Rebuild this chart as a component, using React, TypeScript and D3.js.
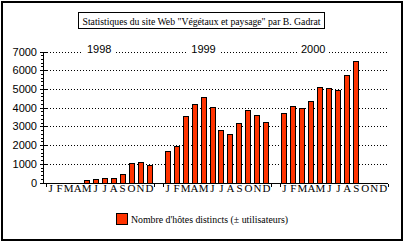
import React from "react";
import * as d3 from "d3";

const monthLabels = ["J", "F", "M", "A", "M", "J", "J", "A", "S", "O", "N", "D"];
const years = ["1998", "1999", "2000"];
const hosts1998 = [0, 0, 0, 0, 110, 170, 220, 220, 440, 1020, 1120, 910];
const hosts1999 = [1700, 1970, 3550, 4210, 4580, 4040, 2790, 2590, 3160, 3870, 3600, 3220];
const hosts2000 = [3710, 4090, 3980, 4360, 5120, 5050, 4960, 5750, 6480, null, null, null];
const yTicks = [0, 1000, 2000, 3000, 4000, 5000, 6000, 7000];
const titleText = "Statistiques du site Web \"Végétaux et paysage\" par B. Gadrat";
const legendText = "Nombre d'hôtes distincts (± utilisateurs)";

// layout: where each year label sits (fractional month index in its year)
const yearLabelMonthPos = [5.4, 4, 3.2];

const W = 406;
const H = 243;
const barColor = "#ff3300";

export default function App() {
  const seriesByYear = [hosts1998, hosts1999, hosts2000];
  const slots: string[] = [];
  years.forEach((yr, yi) => {
    monthLabels.forEach((_, mi) => slots.push(`${yr}-${mi}`));
    if (yi < years.length - 1) slots.push(`gap-${yi}`);
  });
  const x = d3.scaleBand<string>().domain(slots).range([46.2, 387.8]).padding(0);
  const y = d3.scaleLinear().domain([0, 7000]).range([182.5, 51.5]);
  const bw = x.bandwidth();
  const cx = (key: string) => (x(key) as number) + bw / 2;

  const bars: { key: string; v: number }[] = [];
  years.forEach((yr, yi) => {
    seriesByYear[yi].forEach((v, mi) => {
      if (v != null && v > 0) bars.push({ key: `${yr}-${mi}`, v });
    });
  });

  const minorTicks = d3.range(0, 7001, 200).filter((t) => t % 1000 !== 0);
  const axisX = 43.5;
  const y0 = Math.round(y(0)) + 0.5;

  const yearLabelX = years.map((yr, yi) => cx(`${yr}-0`) + yearLabelMonthPos[yi] * bw);

  // x ticks: start, around each gap slot, end
  const xTickPos: number[] = [x(slots[0]) as number];
  slots.forEach((s) => {
    if (s.startsWith("gap")) {
      xTickPos.push(x(s) as number, (x(s) as number) + bw);
    }
  });
  xTickPos.push(387.5);

  const serif = "'Liberation Serif', 'Times New Roman', serif";
  const sans = "'Liberation Sans', Arial, sans-serif";

  return (
    <svg width={W} height={H} style={{ position: "absolute", left: 0, top: 0 }} shapeRendering="crispEdges">
      <rect x={0} y={0} width={W} height={H} fill="#fff" />
      <rect x={2} y={2} width={400} height={237.5} fill="none" stroke="#000" strokeWidth={2} />

      {/* title */}
      <rect x={78.5} y={12.5} width={246} height={16} fill="#fff" stroke="#000" strokeWidth={1} />
      <text x={201.5} y={24.5} textAnchor="middle" fontFamily={serif} fontSize={11}
        textLength={238} lengthAdjust="spacingAndGlyphs" shapeRendering="auto">
        {titleText}
      </text>

      {/* gridlines */}
      {yTicks.filter((t) => t > 0).map((t) => (
        <line key={t} x1={axisX + 3} x2={387} y1={Math.round(y(t)) + 0.5} y2={Math.round(y(t)) + 0.5}
          stroke="#000" strokeWidth={1} strokeDasharray="1,2" />
      ))}

      {/* year labels with white backing */}
      {years.map((yr, yi) => (
        <g key={yr}>
          <rect x={yearLabelX[yi] - 16} y={y(7000) - 5} width={32} height={10} fill="#fff" />
          <text x={yearLabelX[yi]} y={y(7000) + 1} textAnchor="middle" fontFamily={sans} fontSize={11}
            shapeRendering="auto">{yr}</text>
        </g>
      ))}

      {/* y axis */}
      <line x1={axisX} x2={axisX} y1={y(7000)} y2={y0 + 0.5} stroke="#000" />
      {yTicks.map((t) => (
        <g key={t}>
          <line x1={40} x2={47} y1={Math.round(y(t)) + 0.5} y2={Math.round(y(t)) + 0.5} stroke="#000" />
          <text x={37} y={y(t) + 4} textAnchor="end" fontFamily={sans} fontSize={11} shapeRendering="auto">{t}</text>
        </g>
      ))}
      {minorTicks.map((t) => (
        <line key={t} x1={41} x2={axisX} y1={Math.round(y(t)) + 0.5} y2={Math.round(y(t)) + 0.5} stroke="#000" />
      ))}

      {/* bars */}
      {bars.map((b) => {
        const left = Math.round(cx(b.key) - 3) + 0.5;
        const top = Math.round(y(b.v)) + 0.5;
        return (
          <rect key={b.key} x={left} y={top} width={5} height={y0 - top} fill={barColor} stroke="#000" strokeWidth={1} />
        );
      })}

      {/* x axis */}
      <line x1={axisX} x2={387.5} y1={y0} y2={y0} stroke="#000" />
      {xTickPos.map((p, i) => (
        <line key={i} x1={Math.round(p) + 0.5} x2={Math.round(p) + 0.5} y1={y0} y2={y0 + 3} stroke="#000" />
      ))}
      {slots.filter((s) => !s.startsWith("gap")).map((s) => {
        const mi = +s.split("-")[1];
        return (
          <text key={s} x={cx(s)} y={192} textAnchor="middle" fontFamily={serif} fontSize={11}
            shapeRendering="auto">{monthLabels[mi]}</text>
        );
      })}

      {/* legend */}
      <rect x={116.5} y={213.5} width={11} height={11} fill={barColor} stroke="#000" strokeWidth={1} />
      <text x={131} y={223} fontFamily={serif} fontSize={11} textLength={157} lengthAdjust="spacingAndGlyphs"
        shapeRendering="auto">{legendText}</text>
    </svg>
  );
}
